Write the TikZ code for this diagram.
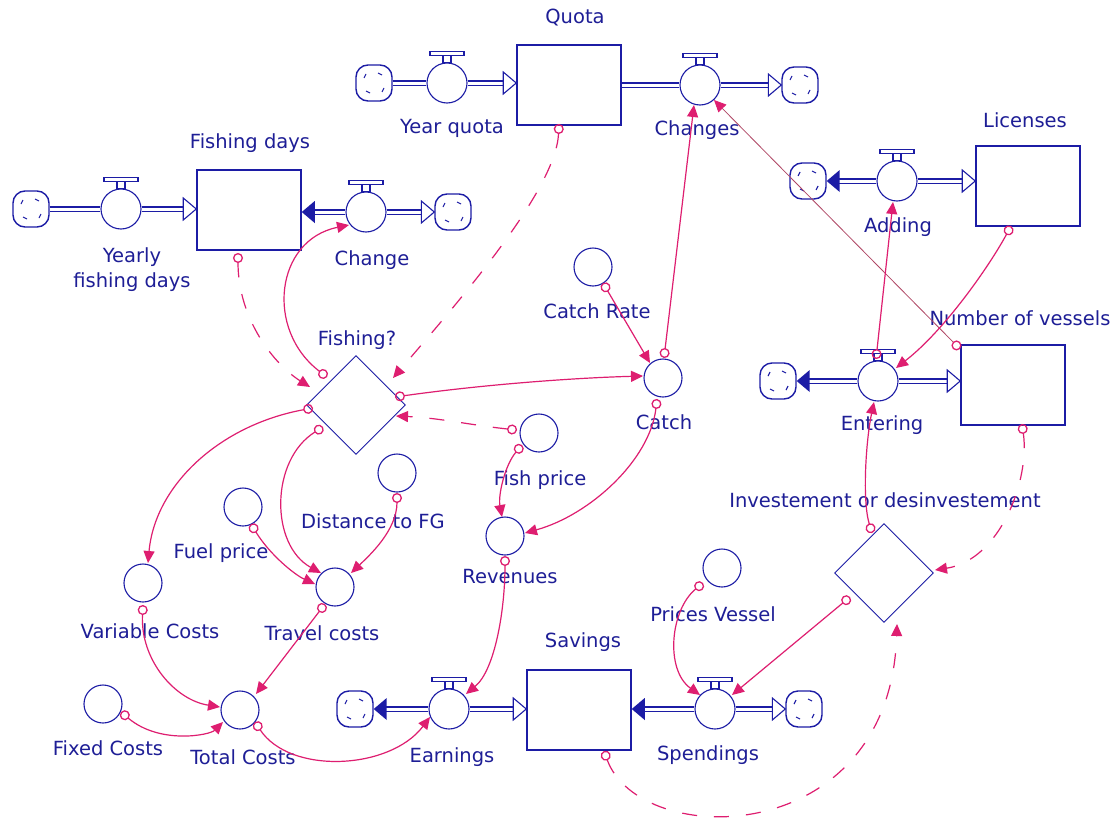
\documentclass[tikz,border=0pt]{standalone}
\usepackage{fontspec}
\setmainfont{DejaVu Sans}
\usetikzlibrary{shapes.geometric,arrows.meta,calc}
\definecolor{sb}{RGB}{28,28,165}
\definecolor{tb}{RGB}{30,30,150}
\definecolor{pk}{RGB}{222,30,112}
\definecolor{br}{RGB}{175,70,100}
\begin{document}
\begin{tikzpicture}[x=1pt,y=-1pt,
 stock/.style={draw=sb,line width=1.5pt,fill=white,minimum width=104pt,minimum height=80pt,inner sep=0pt},
 valve/.style={circle,draw=sb,line width=1.1pt,fill=white,minimum size=40pt,inner sep=0pt},
 aux/.style={circle,draw=sb,line width=1.1pt,fill=white,minimum size=38pt,inner sep=0pt},
 dec/.style={diamond,aspect=1,draw=sb,line width=0.9pt,fill=white,minimum width=99pt,minimum height=99pt,inner sep=0pt},
 cloudn/.style={draw=sb,line width=1.4pt,fill=white,rounded corners=12pt,minimum size=36pt,inner sep=0pt,
   path picture={\draw[sb,line width=1.1pt]
     ($(path picture bounding box.center)+(-10,-5)$) -- ++(2,-4)
     ($(path picture bounding box.center)+(4,-10)$) -- ++(4,2)
     ($(path picture bounding box.center)+(10,5)$) -- ++(-2,4)
     ($(path picture bounding box.center)+(-4,10)$) -- ++(-4,-2);}},
 lbl/.style={text=tb,font=\fontsize{19.5}{23}\selectfont,inner sep=0pt},
 pipe/.style={draw=sb,line width=1.2pt,double=white,double distance=3pt},
 conn/.style={draw=pk,line width=1.2pt,{Circle[open,length=10pt,width=10pt,line width=1.3pt]}-{Triangle[length=12pt,width=11pt]}},
 dconn/.style={conn,dash pattern=on 15pt off 17pt},
 tconn/.style={draw=br,line width=0.8pt,{Circle[open,length=10pt,width=10pt,color=pk,line width=1.3pt]}-{Triangle[length=12pt,width=11pt,color=pk]}},
 hr/.pic={\draw[sb,line width=1.1pt,fill=white] (0,0) -- (-13,-11) -- (-13,11) -- cycle;},
 fl/.pic={\fill[sb] (0,0) -- (13,-11) -- (13,11) -- cycle;}
]
\useasboundingbox[fill=white] (0,0) rectangle (1114,822);

% ---------- stocks ----------
\node[stock] (quota) at (569,85) {};
\node[stock] (fd) at (249,210) {};
\node[stock] (lic) at (1028,186) {};
\node[stock] (nv) at (1013,385) {};
\node[stock] (sav) at (579,710) {};

% ---------- clouds ----------
\node[cloudn] (qc1) at (374,83) {};
\node[cloudn] (qc2) at (800,85) {};
\node[cloudn] (fc1) at (31,209) {};
\node[cloudn] (fc2) at (453,212) {};
\node[cloudn] (lc) at (808,181) {};
\node[cloudn] (vc) at (778,381) {};
\node[cloudn] (sc) at (355,709) {};
\node[cloudn] (sc2) at (804,709) {};

% ---------- valves ----------
\node[valve] (yq) at (447,83) {};
\node[valve] (chg) at (700,85) {};
\node[valve] (yfd) at (121,209) {};
\node[valve] (chd) at (366,212) {};
\node[valve] (add) at (897,181) {};
\node[valve] (ent) at (878,381) {};
\node[valve] (earn) at (449,709) {};
\node[valve] (spd) at (715,709) {};

% ---------- pipes ----------
\draw[pipe] (qc1.east) -- (yq.west);
\draw[pipe,shorten >=12pt] (yq.east) -- (yq.east -| quota.west);
\pic at (yq.east -| quota.west) {hr};
\draw[pipe] (chg.west -| quota.east) -- (chg.west);
\draw[pipe,shorten >=12pt] (chg.east) -- (qc2.west);
\pic at (qc2.west) {hr};

\draw[pipe] (fc1.east) -- (yfd.west);
\draw[pipe,shorten >=12pt] (yfd.east) -- (yfd.east -| fd.west);
\pic at (yfd.east -| fd.west) {hr};
\draw[pipe,shorten >=12pt] (chd.west) -- (chd.west -| fd.east);
\pic at (chd.west -| fd.east) {fl};
\draw[pipe,shorten >=12pt] (chd.east) -- (fc2.west);
\pic at (fc2.west) {hr};

\draw[pipe,shorten >=12pt] (add.west) -- (lc.east);
\pic at (lc.east) {fl};
\draw[pipe,shorten >=12pt] (add.east) -- (add.east -| lic.west);
\pic at (add.east -| lic.west) {hr};

\draw[pipe,shorten >=12pt] (ent.west) -- (vc.east);
\pic at (vc.east) {fl};
\draw[pipe,shorten >=12pt] (ent.east) -- (ent.east -| nv.west);
\pic at (ent.east -| nv.west) {hr};

\draw[pipe,shorten >=12pt] (earn.west) -- (sc.east);
\pic at (sc.east) {fl};
\draw[pipe,shorten >=12pt] (earn.east) -- (earn.east -| sav.west);
\pic at (earn.east -| sav.west) {hr};
\draw[pipe,shorten >=12pt] (spd.west) -- (spd.west -| sav.east);
\pic at (spd.west -| sav.east) {fl};
\draw[pipe,shorten >=12pt] (spd.east) -- (sc2.west);
\pic at (sc2.west) {hr};

\foreach \v in {yq,chg,yfd,chd,add,ent,earn,spd}{
  \draw[sb,line width=1.1pt,fill=white] ($(\v.north)+(-4,0)$) rectangle ($(\v.north)+(4,-7)$);
  \draw[sb,line width=1.1pt,fill=white] ($(\v.north)+(-17,-7)$) rectangle ($(\v.north)+(17,-11)$);
}

% ---------- auxiliaries ----------
\node[aux] (cr) at (593,267) {};
\node[aux] (catch) at (663,378) {};
\node[aux] (fp) at (539,433) {};
\node[aux] (rev) at (505,536) {};
\node[aux] (dist) at (397,473) {};
\node[aux] (fuel) at (243,507) {};
\node[aux] (tc) at (335,587) {};
\node[aux] (varc) at (143,583) {};
\node[aux] (fixc) at (103,704) {};
\node[aux] (totc) at (240,710) {};
\node[aux] (pv) at (722,568) {};
\node[dec] (fishing) at (356,405) {};
\node[dec] (inv) at (884,573) {};

% ---------- labels ----------
\node[lbl] (lquota) at (575,18) {Quota};
\node[lbl] (lyq) at (452,128) {Year quota};
\node[lbl] (lchg) at (697,130) {Changes};
\node[lbl] (lfd) at (250,143) {Fishing days};
\node[lbl,align=center] (lyfd) at (132,270) {Yearly\\[2pt]fishing days};
\node[lbl] (lchd) at (372,260) {Change};
\node[lbl] (llic) at (1025,120) {Licenses};
\node[lbl] (ladd) at (898,227) {Adding};
\node[lbl] (lnv) at (1020,318) {Number of vessels};
\node[lbl] (lent) at (882,425) {Entering};
\node[lbl] (lsav) at (583,642) {Savings};
\node[lbl] (learn) at (452,757) {Earnings};
\node[lbl] (lspd) at (708,755) {Spendings};
\node[lbl] (lcr) at (597,311) {Catch Rate};
\node[lbl] (lcatch) at (664,422) {Catch};
\node[lbl] (lfp) at (540,480) {Fish price};
\node[lbl] (lrev) at (510,577) {Revenues};
\node[lbl] (ldist) at (373,521) {Distance to FG};
\node[lbl] (lfuel) at (221,553) {Fuel price};
\node[lbl] (ltc) at (322,633) {Travel costs};
\node[lbl] (lvarc) at (150,631) {Variable Costs};
\node[lbl] (lfixc) at (108,748) {Fixed Costs};
\node[lbl] (ltotc) at (243,757) {Total Costs};
\node[lbl] (lpv) at (713,614) {Prices Vessel};
\node[lbl] (linv) at (885,500) {Investement or desinvestement};
\node[lbl] (lfishing) at (357,340) {Fishing?};

% ---------- connectors ----------
\draw[dconn] ($(quota)+(-10,39)$) .. controls (556,190) and (460,300) .. ($(fishing)+(37,-27)$);
\draw[dconn] ($(fd)+(-11,43)$) .. controls (238,320) and (275,365) .. ($(fishing)+(-46,-18)$);
\draw[conn] ($(fishing)+(-29,-28)$) .. controls (265,330) and (275,240) .. ($(chd)+(-17,13)$);
\draw[conn] ($(fishing)+(39,-8)$) .. controls (480,385) and (570,378) .. ($(catch)+(-20,-2)$);
\draw[conn] ($(fishing)+(-43,3)$) .. controls (220,425) and (155,485) .. ($(varc)+(5,-20)$);
\draw[conn] ($(fishing)+(-33,22)$) .. controls (270,460) and (270,545) .. ($(tc)+(-14,-14)$);
\draw[dconn] ($(fp)+(-22,-3)$) .. controls (470,425) and (440,418) .. ($(fishing)+(40,11)$);
\draw[conn] ($(fp)+(-17,12)$) .. controls (505,465) and (498,495) .. ($(rev)+(-3,-19)$);
\draw[conn] ($(catch)+(-6,21)$) .. controls (650,460) and (590,515) .. ($(rev)+(20,-3)$);
\draw[conn] ($(catch)+(1,-20)$) -- ($(chg)+(-6,20)$);
\draw[conn] ($(cr)+(10,16)$) -- ($(catch)+(-13,-15)$);
\draw[tconn] ($(nv)+(-53,-36)$) -- ($(chg)+(14,15)$);
\draw[conn] ($(lic)+(-17,40)$) .. controls (990,265) and (945,330) .. ($(ent)+(18,-13)$);
\draw[conn] ($(ent)+(-2,-22)$) -- ($(add)+(-4,21)$);
\draw[conn] ($(inv)+(-12,-40)$) .. controls (862,500) and (866,440) .. ($(ent)+(-4,21)$);
\draw[dconn] ($(nv)+(9,39)$) .. controls (1030,480) and (1000,560) .. ($(inv)+(51,-3)$);
\draw[dconn] ($(sav)+(25,41)$) .. controls (640,850) and (890,850) .. ($(inv)+(13,51)$);
\draw[conn] ($(inv)+(-34,24)$) -- ($(spd)+(17,-14)$);
\draw[conn] ($(pv)+(-19,15)$) .. controls (670,610) and (665,670) .. ($(spd)+(-15,-14)$);
\draw[conn] ($(rev)+(0,20)$) .. controls (505,610) and (495,670) .. ($(earn)+(17,-15)$);
\draw[conn] ($(totc)+(15,12)$) .. controls (290,775) and (390,770) .. ($(earn)+(-19,8)$);
\draw[conn] ($(fixc)+(18,8)$) .. controls (160,745) and (210,735) .. ($(totc)+(-17,12)$);
\draw[conn] ($(varc)+(0,22)$) .. controls (140,660) and (175,700) .. ($(totc)+(-20,-3)$);
\draw[conn] ($(tc)+(-10,17)$) -- ($(totc)+(16,-16)$);
\draw[conn] ($(fuel)+(8,17)$) .. controls (270,555) and (295,575) .. ($(tc)+(-20,-3)$);
\draw[conn] ($(dist)+(0,20)$) .. controls (397,530) and (370,555) .. ($(tc)+(16,-14)$);
\end{tikzpicture}
\end{document}
